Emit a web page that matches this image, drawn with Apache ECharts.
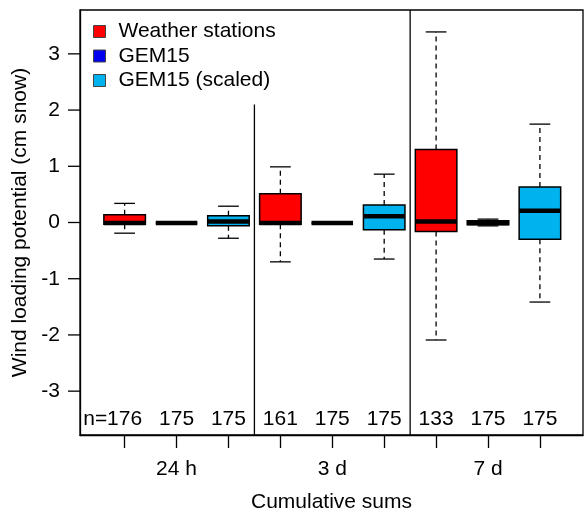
<!DOCTYPE html>
<html><head><meta charset="utf-8">
<script src="https://cdn.jsdelivr.net/npm/echarts@6/dist/echarts.min.js"></script>
<style>html,body{margin:0;padding:0;background:#fff}#chart{width:585px;height:508px}</style>
</head><body><div id="chart"></div>
<script>
const groups = ['24 h', '3 d', '7 d'];
const seriesNames = ['Weather stations', 'GEM15', 'GEM15 (scaled)'];
const seriesColors = ['#FF0000', '#0000EE', '#00B2EE'];
// [lower whisker, Q1, median, Q3, upper whisker] per group
const stationStats = [
  [-0.19, -0.03, -0.01, 0.14, 0.34],
  [-0.70, -0.03, -0.01, 0.51, 0.99],
  [-2.09, -0.16, 0.02, 1.30, 3.39]
];
const gem15Stats = [
  [-0.02, -0.01, -0.01, -0.01, 0.00],
  [-0.02, -0.01, -0.01, -0.01, 0.00],
  [-0.06, -0.04, -0.01, 0.03, 0.06]
];
const gem15ScaledStats = [
  [-0.28, -0.06, 0.02, 0.12, 0.29],
  [-0.65, -0.13, 0.11, 0.31, 0.86],
  [-1.415, -0.30, 0.21, 0.63, 1.75]
];
const stationN = [176, 161, 133];
const gem15N = [175, 175, 175];
const gem15ScaledN = [175, 175, 175];
const yTicks = [-3, -2, -1, 0, 1, 2, 3];
const dividerTops = [2.1, null];

const FONT = '"Liberation Sans", Arial, sans-serif';
const allStats = [stationStats, gem15Stats, gem15ScaledStats];
const allN = [stationN, gem15N, gem15ScaledN];
const nSeries = seriesNames.length;
const xMin = 0.14, xMax = 9.83;
const yMin = -3.78, yMax = 3.78;
const nLabelY = -3.5;

function renderBox(params, api) {
  const x = api.value(0);
  const w = api.size([0.8, 0])[0];
  const cap = w / 2;
  const pLow = api.coord([x, api.value(1)]);
  const pQ1 = api.coord([x, api.value(2)]);
  const pMed = api.coord([x, api.value(3)]);
  const pQ3 = api.coord([x, api.value(4)]);
  const pHigh = api.coord([x, api.value(5)]);
  const pN = api.coord([x, nLabelY]);
  const cx = pMed[0];
  const color = api.visual('color');
  const dash = { stroke: '#000', lineWidth: 1.3, lineDash: [5, 4] };
  const children = [
    { type: 'line', shape: { x1: cx, y1: pQ3[1], x2: cx, y2: pHigh[1] }, style: Object.assign({}, dash) },
    { type: 'line', shape: { x1: cx, y1: pQ1[1], x2: cx, y2: pLow[1] }, style: Object.assign({}, dash) },
    { type: 'line', shape: { x1: cx - cap / 2, y1: pHigh[1], x2: cx + cap / 2, y2: pHigh[1] }, style: { stroke: '#000', lineWidth: 1.3 } },
    { type: 'line', shape: { x1: cx - cap / 2, y1: pLow[1], x2: cx + cap / 2, y2: pLow[1] }, style: { stroke: '#000', lineWidth: 1.3 } },
    { type: 'rect', shape: { x: cx - w / 2, y: pQ3[1], width: w, height: pQ1[1] - pQ3[1] },
      style: { fill: color, stroke: '#000', lineWidth: 1.5 } },
    { type: 'line', shape: { x1: cx - w / 2, y1: pMed[1], x2: cx + w / 2, y2: pMed[1] },
      style: { stroke: '#000', lineWidth: 4.5 } },
    { type: 'text', x: cx, y: pN[1],
      style: { text: String(api.value(6)), font: '21px ' + FONT, fill: '#000', align: 'center', verticalAlign: 'middle' } }
  ];
  if (api.value(7) === 1) {
    children.push({ type: 'text', x: cx - 17.5, y: pN[1],
      style: { text: 'n=', font: '21px ' + FONT, fill: '#000', align: 'right', verticalAlign: 'middle' } });
  }
  return { type: 'group', children };
}

const boxSeries = seriesNames.map((name, s) => ({
  name,
  type: 'custom',
  itemStyle: { color: seriesColors[s] },
  renderItem: renderBox,
  encode: { x: 0, y: [1, 2, 3, 4, 5] },
  data: groups.map((g, gi) => [gi * nSeries + s + 1].concat(allStats[s][gi], [allN[s][gi], (gi === 0 && s === 0) ? 1 : 0])),
  z: 3
}));

const dividerSeries = {
  type: 'custom',
  silent: true,
  renderItem: function (params, api) {
    const x = api.value(0);
    const top = api.value(1);
    const pB = api.coord([x, yMin]);
    const pT = api.coord([x, isNaN(top) ? yMax : top]);
    return { type: 'line', shape: { x1: pB[0], y1: pB[1], x2: pT[0], y2: pT[1] }, style: { stroke: '#000', lineWidth: 1.3 } };
  },
  encode: { x: 0, y: 1 },
  data: dividerTops.map((t, i) => [(i + 1) * nSeries + 0.5, t === null ? '-' : t]),
  z: 2
};

const positions = [];
for (let i = 1; i <= groups.length * nSeries; i++) positions.push(i);
const groupCenters = groups.map((g, gi) => gi * nSeries + (nSeries + 1) / 2);

const chart = echarts.init(document.getElementById('chart'), null, { renderer: 'canvas' });
chart.setOption({
  animation: false,
  backgroundColor: '#fff',
  textStyle: { fontFamily: FONT },
  grid: { left: 80, right: 2, top: 10, bottom: 73, show: true, borderColor: '#000', borderWidth: 1.3,
          backgroundColor: 'transparent', containLabel: false, outerBoundsMode: 'none' },
  legend: {
    show: true,
    orient: 'vertical',
    left: 93, top: 21,
    padding: 0,
    itemGap: 3.5,
    itemWidth: 12, itemHeight: 12,
    icon: 'rect',
    selectedMode: false,
    itemStyle: { borderColor: '#444', borderWidth: 1 },
    textStyle: { fontSize: 21, fontFamily: FONT, color: '#000', padding: [0, 0, 0, 8] },
    data: seriesNames
  },
  xAxis: {
    type: 'value',
    min: xMin, max: xMax,
    position: 'bottom',
    name: 'Cumulative sums',
    nameLocation: 'middle',
    nameGap: 57,
    nameTextStyle: { fontSize: 21, fontFamily: FONT, color: '#000' },
    axisLine: { show: true, onZero: false, lineStyle: { color: '#000', width: 1.3 } },
    splitLine: { show: false },
    axisTick: { show: true, customValues: positions, length: 13, lineStyle: { color: '#000', width: 1.3 } },
    axisLabel: {
      customValues: groupCenters,
      formatter: v => groups[Math.round((v - (nSeries + 1) / 2) / nSeries)],
      fontSize: 21, fontFamily: FONT, color: '#000', margin: 24
    }
  },
  yAxis: {
    type: 'value',
    min: yMin, max: yMax,
    position: 'left',
    name: 'Wind loading potential (cm snow)',
    nameLocation: 'middle',
    nameGap: 40,
    nameTextStyle: { fontSize: 21, fontFamily: FONT, color: '#000' },
    axisLine: { show: true, onZero: false, lineStyle: { color: '#000', width: 1.3 } },
    splitLine: { show: false },
    axisTick: { show: false },
    axisLabel: { customValues: yTicks, fontSize: 21, fontFamily: FONT, color: '#000', margin: 20 }
  },
  series: boxSeries.concat([dividerSeries])
});

// outward y-axis tick marks, positioned through the chart's own y scale
chart.setOption({
  graphic: yTicks.map(t => {
    const p = chart.convertToPixel({ gridIndex: 0 }, [xMin, t]);
    return { type: 'line', z: 100, silent: true,
      shape: { x1: p[0] - 12, y1: p[1], x2: p[0], y2: p[1] },
      style: { stroke: '#000', lineWidth: 1.3 } };
  })
});
</script>
</body></html>
